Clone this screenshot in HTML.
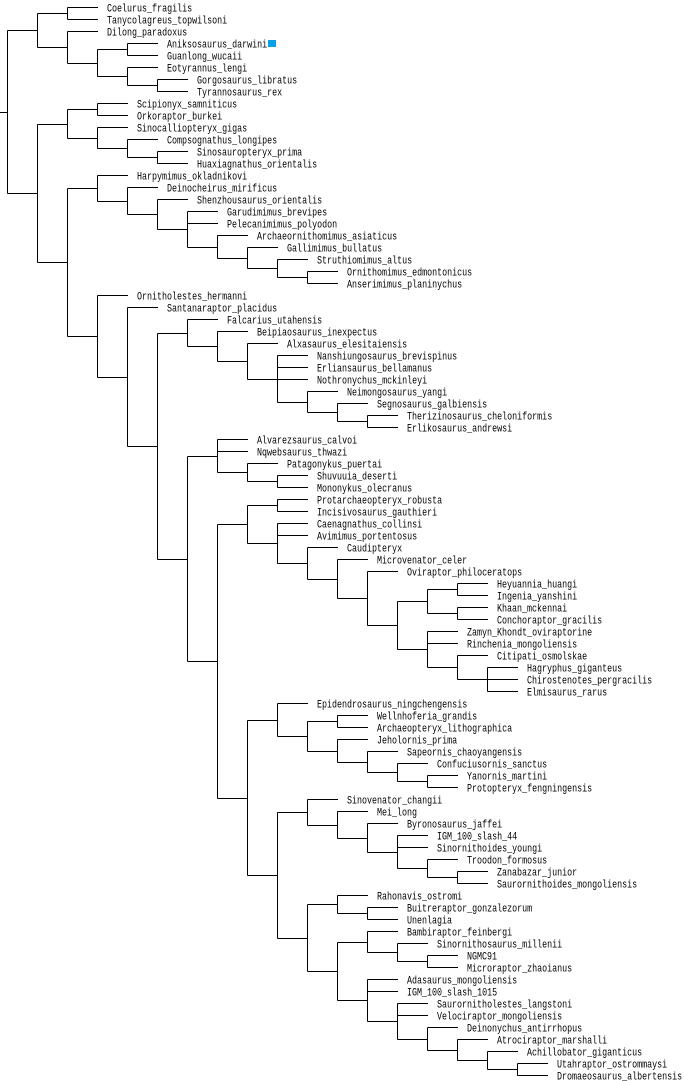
<!DOCTYPE html>
<html><head><meta charset="utf-8"><style>
html,body{margin:0;padding:0;background:#fff;width:685px;height:1081px;overflow:hidden}
svg{display:block}
text{font-family:"Liberation Mono",monospace;font-size:11px;fill:#000}
</style></head><body>
<svg id="s" width="685" height="1081" xmlns="http://www.w3.org/2000/svg" shape-rendering="crispEdges"></svg>
<script>
var TYR=[["Coelurus_fragilis","Tanycolagreus_topwilsoni"],["Dilong_paradoxus",[["Aniksosaurus_darwini","Guanlong_wucaii"],["Eotyrannus_lengi",["Gorgosaurus_libratus","Tyrannosaurus_rex"]]]]];
var COMP=[["Scipionyx_samniticus","Orkoraptor_burkei"],["Sinocalliopteryx_gigas",["Compsognathus_longipes",["Sinosauropteryx_prima","Huaxiagnathus_orientalis"]]]];
var ORN=["Harpymimus_okladnikovi",["Deinocheirus_mirificus",["Shenzhousaurus_orientalis",["Garudimimus_brevipes","Pelecanimimus_polyodon",["Archaeornithomimus_asiaticus",["Gallimimus_bullatus",["Struthiomimus_altus",["Ornithomimus_edmontonicus","Anserimimus_planinychus"]]]]]]]];
var THER=["Falcarius_utahensis",["Beipiaosaurus_inexpectus",["Alxasaurus_elesitaiensis",["Nanshiungosaurus_brevispinus","Erliansaurus_bellamanus","Nothronychus_mckinleyi",["Neimongosaurus_yangi",["Segnosaurus_galbiensis",["Therizinosaurus_cheloniformis","Erlikosaurus_andrewsi"]]]]]]];
var ALV=["Alvarezsaurus_calvoi","Nqwebsaurus_thwazi",["Patagonykus_puertai",["Shuvuuia_deserti","Mononykus_olecranus"]]];
var CIT=["Citipati_osmolskae",["Hagryphus_giganteus","Chirostenotes_pergracilis","Elmisaurus_rarus"]];
var OVIN=[[["Heyuannia_huangi","Ingenia_yanshini"],["Khaan_mckennai","Conchoraptor_gracilis"]],["Zamyn_Khondt_oviraptorine","Rinchenia_mongoliensis",CIT]];
var OVI=[["Protarchaeopteryx_robusta","Incisivosaurus_gauthieri"],["Caenagnathus_collinsi","Avimimus_portentosus",["Caudipteryx",["Microvenator_celer",["Oviraptor_philoceratops",OVIN]]]]];
var AVI=["Epidendrosaurus_ningchengensis",[["Wellnhoferia_grandis","Archaeopteryx_lithographica"],["Jeholornis_prima",["Sapeornis_chaoyangensis",["Confuciusornis_sanctus",["Yanornis_martini","Protopteryx_fengningensis"]]]]]];
var TRO=["Sinovenator_changii",["Mei_long",["Byronosaurus_jaffei",["IGM_100_slash_44","Sinornithoides_youngi",["Troodon_formosus",["Zanabazar_junior","Saurornithoides_mongoliensis"]]]]]];
var DRA=["Bambiraptor_feinbergi",["Sinornithosaurus_millenii",["NGMC91","Microraptor_zhaoianus"]]];
var DRB=["Adasaurus_mongoliensis","IGM_100_slash_1015",["Saurornitholestes_langstoni","Velociraptor_mongoliensis",["Deinonychus_antirrhopus",["Atrociraptor_marshalli",["Achillobator_giganticus",["Utahraptor_ostrommaysi","Dromaeosaurus_albertensis"]]]]]];
var DRO=[["Rahonavis_ostromi",["Buitreraptor_gonzalezorum","Unenlagia"]],[DRA,DRB]];
var PARAVES=[AVI,[TRO,DRO]];
var MANI=[ALV,[OVI,PARAVES]];
var ORNI=["Ornitholestes_hermanni",["Santanaraptor_placidus",[THER,MANI]]];
var T=[TYR,[COMP,[ORN,ORNI]]];

var out="",leaf=0;
function ln(x1,y1,x2,y2){out+='<line x1="'+x1+'" y1="'+y1+'" x2="'+x2+'" y2="'+y2+'" stroke="#000" stroke-width="1"/>';}
function lay(n,x){
 if(typeof n==="string"){var y=7+12*leaf;leaf++;return {y:y,leaf:n};}
 var ys=[];
 for(var i=0;i<n.length;i++){
  var r=lay(n[i],x+30);
  var yy=r.y+0.5;
  if(r.leaf){
   ln(x+0.5,yy,x+31,yy);
   out+='<text transform="translate('+(x+40)+','+(r.y+4.5)+') scale(0.76,1)">'+r.leaf+'</text>';
   if(r.leaf==="Aniksosaurus_darwini")out+='<rect x="268" y="40" width="8" height="7" fill="#0aa0e8"/>';
  } else ln(x+0.5,yy,x+30.5,yy);
  ys.push(r.y);
 }
 ln(x+0.5,ys[0]+0.5,x+0.5,ys[ys.length-1]+0.5);
 return {y:Math.round((ys[0]+ys[ys.length-1])/2)};
}
var rr=lay(T,7);
ln(0,rr.y+0.5,7.5,rr.y+0.5);
document.getElementById("s").innerHTML=out;
</script>
</body></html>
